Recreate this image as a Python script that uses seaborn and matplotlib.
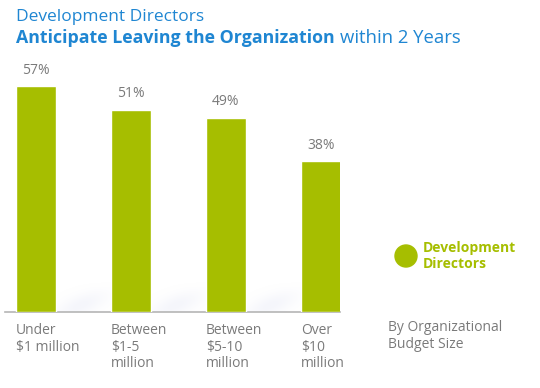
import matplotlib
matplotlib.use("Agg")
import matplotlib.pyplot as plt
import seaborn as sns
import pandas as pd
import numpy as np

categories = ["Under\n$1 million", "Between\n$1-5\nmillion", "Between\n$5-10\nmillion", "Over\n$10\nmillion"]
values = [57, 51, 49, 38]
value_labels = ["57%", "51%", "49%", "38%"]
series_name = "Development\nDirectors"

green = "#a6be00"
blue = "#1f86d2"
gray = "#7a7a7a"

sns.set_style("white")
plt.rcParams["font.family"] = ["Open Sans", "DejaVu Sans"]

df = pd.DataFrame({"cat": categories, "val": values})

fig = plt.figure(figsize=(5.4, 3.88), dpi=100)
ax = fig.add_axes([5 / 540, 76 / 388, 335 / 540, 238 / 388])

sns.barplot(data=df, x="cat", y="val", color=green, width=0.42, saturation=1, ax=ax, zorder=3)

# soft shadow to the right of each bar foot
h, w = 40, 80
yy, xx = np.mgrid[0:h, 0:w]
yn = yy / (h - 1)
xn = xx / (w - 1)
diag = np.exp(-((yn - (1 - xn * 0.9)) ** 2) / 0.15)
fade = np.clip(yn, 0, 1) ** 1.2 * np.exp(-((xn - 0.45) ** 2) / 0.15)
alpha = np.clip(diag * fade * 0.3, 0, 1)
img = np.zeros((h, w, 4))
img[..., 0] = 0.80
img[..., 1] = 0.82
img[..., 2] = 0.93
img[..., 3] = alpha
for i in range(len(values)):
    ax.imshow(img, extent=(i + 0.21, i + 0.95, 0, 8), aspect="auto", zorder=1,
              interpolation="bilinear")

ax.set_xlim((5 - 36) / 95, (340 - 36) / 95)
ax.set_ylim(0, 60)
for s in ["top", "right", "left"]:
    ax.spines[s].set_visible(False)
ax.spines["bottom"].set_color("#b5b5b5")
ax.spines["bottom"].set_linewidth(1.2)
ax.set_xticks([])
ax.set_yticks([])
ax.set_xlabel("")
ax.set_ylabel("")

for i, (v, lab) in enumerate(zip(values, value_labels)):
    ax.annotate(lab, (i, v), xytext=(0, 6), textcoords="offset points",
                ha="center", va="bottom", color=gray, fontsize=10)

for i, c in enumerate(categories):
    ax.annotate(c, (i - 0.21, 0), xytext=(0, -8), textcoords="offset points",
                ha="left", va="top", color=gray, fontsize=10, linespacing=1.15)

fig.text(388 / 540, 1 - 320 / 388, "By Organizational\nBudget Size", ha="left", va="top",
         color=gray, fontsize=10, linespacing=1.2)

# legend
fig.patches.append(matplotlib.patches.Ellipse((406 / 540, 1 - 256 / 388), 22 / 540, 22 / 388,
                                              transform=fig.transFigure, color=green))
fig.text(423 / 540, 1 - 256 / 388, series_name, ha="left", va="center", color=green,
         fontsize=10, fontweight="bold", linespacing=1.15)

# title
fig.text(16 / 540, 1 - 17 / 388, "Development Directors", ha="left", va="center",
         color=blue, fontsize=12.5)
t = fig.text(16 / 540, 1 - 38 / 388, "Anticipate Leaving the Organization", ha="left",
             va="center", color=blue, fontsize=12.8, fontweight="bold")
fig.canvas.draw()
bb = t.get_window_extent()
fig.text((bb.x1 + 5) / 540, 1 - 38 / 388, "within 2 Years", ha="left", va="center",
         color=blue, fontsize=13.3)

fig.savefig("out.png", dpi=100)
